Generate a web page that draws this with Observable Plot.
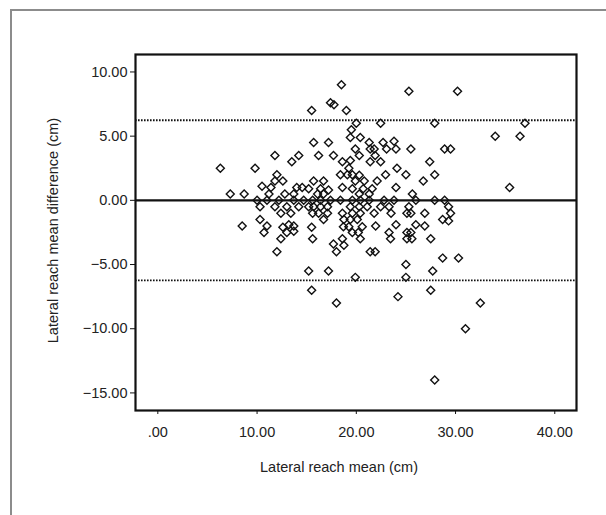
<!DOCTYPE html>
<html>
<head>
<meta charset="utf-8">
<script src="https://cdn.jsdelivr.net/npm/d3@7"></script>
<script src="https://cdn.jsdelivr.net/npm/@observablehq/plot@0.6"></script>
<style>
  html, body { margin: 0; padding: 0; background: #fff; }
  #wrap { position: relative; width: 606px; height: 515px; overflow: hidden; }
  #panel { position: absolute; left: 10px; top: 9px; width: 700px; height: 600px;
           border-left: 2px solid #8c8c8c; border-top: 2px solid #8c8c8c; }
  #chart { position: absolute; left: 0; top: 0; }
</style>
</head>
<body>
<div id="wrap"><div id="panel"></div><div id="chart"></div></div>
<script>
// Lateral reach mean (cm) and mean difference (cm)
const means = [
  11.8, 6.3, 9.8, 12.0, 12.6, 10.5, 11.8, 11.4, 11.2, 7.3, 8.7, 10.0, 11.0, 12.2, 12.8,
  10.3, 11.8, 12.4, 8.5, 10.3, 11.0, 10.7, 12.4, 12.6, 12.0,
  17.4, 17.75, 15.5, 19.0, 20.0, 22.45, 19.5, 19.4, 20.4, 15.7, 17.2, 21.3, 22.7, 23.8,
  19.9, 21.4, 21.8, 23.05, 24.0, 25.5, 14.2, 13.5, 16.2, 17.7, 20.3, 21.9, 18.6, 19.4,
  21.4, 22.45, 19.25, 24.1, 27.4, 18.4, 19.1, 19.6, 20.3, 22.95, 25.0, 15.7, 16.7, 18.6,
  19.9, 20.8, 22.1, 24.0, 26.75, 14.0, 14.55, 15.2, 16.4, 17.2, 19.6, 20.7, 21.6, 25.65,
  13.7, 16.1, 16.7, 20.3, 21.3,
  13.7, 14.7, 15.6, 16.4, 17.4, 18.4, 19.6, 20.4, 21.3, 22.8, 23.8, 26.0,
  13.0, 14.2, 15.2, 15.7, 16.4, 17.1, 19.4, 20.3, 21.1, 22.45, 23.3, 25.3,
  13.4, 15.6, 16.2, 17.1, 18.6, 19.6, 20.4, 21.8, 23.5, 25.1, 25.5, 26.9,
  13.2, 13.7, 15.5, 16.7, 18.75, 19.4, 20.1, 18.7, 19.25, 20.6, 21.95, 24.0, 26.0, 26.9,
  13.0, 13.7, 23.3, 15.6, 17.7, 18.6, 18.75, 18.0, 19.6, 20.2, 20.4, 21.4, 21.9, 23.45,
  25.1, 25.6, 25.1, 25.5, 15.2, 17.2, 15.5, 18.0, 19.9, 25.0, 25.0, 24.2,
  30.2, 27.9, 37.0, 34.0, 36.5, 28.9, 29.5, 27.9, 35.45, 27.9, 28.9, 29.3, 29.5, 28.7,
  29.3, 27.5, 28.7, 30.3, 27.7, 27.5, 32.5, 31.0, 27.9, 18.5, 25.3
];
const diffs = [
  3.5, 2.5, 2.5, 2.0, 1.5, 1.1, 1.5, 1.0, 0.5, 0.5, 0.5, 0.0, 0.0, 0.0, 0.5,
  -0.5, -0.5, -1.0, -2.0, -1.5, -2.0, -2.5, -3.0, -2.1, -4.0,
  7.6, 7.45, 7.0, 7.0, 6.0, 6.0, 5.5, 4.9, 4.9, 4.5, 4.5, 4.5, 4.5, 4.6,
  4.0, 4.0, 4.0, 4.0, 4.0, 4.0, 3.5, 3.0, 3.5, 3.5, 3.5, 3.5, 3.0, 3.1,
  3.0, 3.0, 2.5, 2.5, 3.0, 2.0, 2.0, 2.0, 1.95, 2.0, 2.0, 1.5, 1.5, 1.0,
  1.5, 1.5, 1.5, 1.0, 1.5, 1.0, 1.0, 0.9, 0.9, 0.8, 0.9, 0.9, 0.9, 0.5,
  0.5, 0.5, 0.5, 0.5, 0.5,
  0, 0, 0, 0, 0, 0, 0, 0, 0, 0, 0, 0,
  -0.5, -0.5, -0.5, -0.5, -0.5, -0.5, -0.5, -0.5, -0.5, -0.5, -0.5, -0.5,
  -1, -1, -1, -1, -1, -1, -1, -1, -1, -1, -1, -1,
  -1.9, -2.0, -2.1, -1.5, -1.5, -1.5, -1.5, -2.05, -2.05, -2.05, -2.0, -1.9, -1.9, -2.0,
  -2.5, -2.4, -2.5, -3.0, -3.4, -3.0, -3.5, -4.0, -2.5, -2.5, -3.0, -4.0, -4.0, -3.0,
  -3.0, -3.0, -2.5, -2.5, -5.5, -5.5, -7.0, -8.0, -6.0, -5.0, -6.0, -7.5,
  8.5, 6.0, 6.0, 5.0, 5.0, 4.0, 4.0, 2.0, 1.0, 0, 0, -0.5, -1.0, -1.5,
  -1.6, -3.0, -4.5, -4.5, -5.5, -7.0, -8.0, -10.0, -14.0, 9.0, 8.5
];
const meanLine = [0];
const limits = [6.24, -6.24];
const xTicks = [0, 10, 20, 30, 40];
const yTicks = [10, 5, 0, -5, -10, -15];
const xLabel = "Lateral reach mean (cm)";
const yLabel = "Lateral reach mean difference (cm)";

const points = means.map((m, i) => ({mean: m, diff: diffs[i]}));
const fmtX = d => d === 0 ? ".00" : d.toFixed(2);
const fmtY = d => (d < 0 ? "\u2212" : "") + Math.abs(d).toFixed(2);
const font = "'Liberation Sans', Arial, sans-serif";

const chart = Plot.plot({
  width: 606,
  height: 515,
  marginLeft: 135,
  marginRight: 30,
  marginTop: 54,
  marginBottom: 105,
  style: {fontFamily: font, fontSize: "14.5px", color: "#222", background: "transparent"},
  x: {domain: [-2.25, 42.19]},
  y: {domain: [-16.37, 11.36]},
  marks: [
    Plot.ruleY(limits, {stroke: "#111", strokeWidth: 1.8, strokeDasharray: "1.6,1.4"}),
    Plot.ruleY(meanLine, {stroke: "#111", strokeWidth: 2.2}),
    Plot.dot(points, {x: "mean", y: "diff", symbol: "diamond2", r: 3.6,
                      stroke: "#111", strokeWidth: 1.4, fill: "none"}),
    Plot.frame({stroke: "#111", strokeWidth: 2.2}),
    Plot.axisX({ticks: xTicks, tickFormat: fmtX, tickSize: 4, tickPadding: 12,
                label: null, fontSize: 14.5, stroke: "#111"}),
    Plot.axisY({ticks: yTicks, tickFormat: fmtY, tickSize: 5, tickPadding: 3,
                label: null, fontSize: 14.5, stroke: "#111"}),
    Plot.text([xLabel], {frameAnchor: "bottom", text: d => d, dx: -17, dy: 57,
                         textAnchor: "middle", lineAnchor: "middle",
                         fontSize: 14.5, fill: "#222"}),
    Plot.text([yLabel], {frameAnchor: "left", text: d => d, rotate: -90, dx: -82, dy: -2,
                         textAnchor: "middle", lineAnchor: "middle",
                         fontSize: 14.5, fill: "#222"})
  ]
});
document.getElementById("chart").appendChild(chart);
</script>
</body>
</html>
